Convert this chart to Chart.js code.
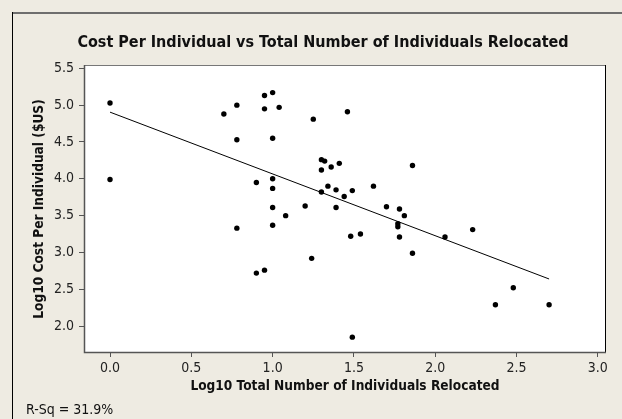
<!DOCTYPE html>
<html>
<head>
<meta charset="utf-8">
<script src="https://cdn.jsdelivr.net/npm/chart.js@4.4.1/dist/chart.umd.min.js"></script>
<style>
  body { margin: 0; background: #eeebe2; }
  #wrap { width: 622px; height: 419px; }
</style>
</head>
<body>
<div id="wrap"><canvas id="chart" width="622" height="419"></canvas></div>
<script>
// log10 total number relocated (x) vs log10 cost per individual (y)
const xValues = [0.00, 0.00, 0.70, 0.78, 0.78, 0.78, 0.90, 0.90, 0.95, 0.95, 0.95, 1.00, 1.00, 1.00, 1.00, 1.00, 1.00,
  1.04, 1.08, 1.20, 1.24, 1.25, 1.30, 1.32, 1.30, 1.30, 1.34, 1.36, 1.41, 1.39, 1.39, 1.44, 1.46, 1.49, 1.48, 1.49,
  1.54, 1.62, 1.70, 1.78, 1.81, 1.77, 1.77, 1.78, 1.86, 1.86, 2.06, 2.23, 2.37, 2.48, 2.70];
const yValues = [5.03, 3.99, 4.88, 5.00, 4.53, 3.33, 3.95, 2.72, 5.13, 4.95, 2.76, 5.17, 4.55, 4.00, 3.87, 3.61, 3.37,
  4.97, 3.50, 3.63, 2.92, 4.81, 4.26, 4.24, 4.12, 3.82, 3.90, 4.16, 4.21, 3.85, 3.61, 3.76, 4.91, 3.84, 3.22, 1.85,
  3.25, 3.90, 3.62, 3.59, 3.50, 3.39, 3.35, 3.21, 4.18, 2.99, 3.21, 3.31, 2.29, 2.52, 2.29];

// fitted regression line end points
const fitX = [0.0, 2.70];
const fitY = [4.905, 2.64];

const xTicks = [0.0, 0.5, 1.0, 1.5, 2.0, 2.5, 3.0];
const yTicks = [2.0, 2.5, 3.0, 3.5, 4.0, 4.5, 5.0, 5.5];

const chartTitle = 'Cost Per Individual vs Total Number of Individuals Relocated';
const xTitle = 'Log10 Total Number of Individuals Relocated';
const yTitle = 'Log10 Cost Per Individual ($US)';
const footNote = 'R-Sq = 31.9%';

const FONT = '"DejaVu Sans Condensed", "DejaVu Sans", sans-serif';
const BG = '#eeebe2';

const points = xValues.map((x, i) => ({ x: x, y: yValues[i] }));
const fitLine = fitX.map((x, i) => ({ x: x, y: fitY[i] }));

const minitabLook = {
  id: 'minitabLook',
  beforeDraw(chart) {
    const ctx = chart.ctx;
    const a = chart.chartArea;
    ctx.save();
    ctx.fillStyle = BG;
    ctx.fillRect(0, 0, chart.width, chart.height);
    // outer frame (top and left)
    ctx.strokeStyle = '#6e6e6e';
    ctx.lineWidth = 2;
    ctx.beginPath();
    ctx.moveTo(12, 13);
    ctx.lineTo(chart.width, 13);
    ctx.stroke();
    ctx.strokeStyle = '#000';
    ctx.lineWidth = 1;
    ctx.beginPath();
    ctx.moveTo(12.5, 12);
    ctx.lineTo(12.5, chart.height);
    ctx.stroke();
    ctx.fillStyle = '#fff';
    ctx.fillRect(a.left, a.top, a.right - a.left, a.bottom - a.top);
    ctx.restore();
  },
  afterDraw(chart) {
    const ctx = chart.ctx;
    const a = chart.chartArea;
    ctx.save();
    ctx.lineWidth = 1;
    ctx.strokeStyle = '#777';
    ctx.beginPath();
    ctx.moveTo(a.left, a.top + 0.5);
    ctx.lineTo(a.right, a.top + 0.5);
    ctx.stroke();
    ctx.strokeStyle = '#000';
    ctx.beginPath();
    ctx.moveTo(a.right - 0.5, a.top);
    ctx.lineTo(a.right - 0.5, a.bottom);
    ctx.stroke();
    ctx.strokeStyle = '#555';
    ctx.lineWidth = 1.5;
    ctx.beginPath();
    ctx.moveTo(a.left + 0.5, a.top);
    ctx.lineTo(a.left + 0.5, a.bottom - 0.5);
    ctx.lineTo(a.right, a.bottom - 0.5);
    ctx.stroke();

    ctx.fillStyle = '#111';
    ctx.textBaseline = 'middle';
    ctx.textAlign = 'center';
    ctx.font = 'bold 16px ' + FONT;
    ctx.fillText(chartTitle, 323, 43);
    ctx.font = 'bold 13.6px ' + FONT;
    ctx.fillText(xTitle, (a.left + a.right) / 2, 386);
    ctx.save();
    ctx.translate(39, (a.top + a.bottom) / 2);
    ctx.rotate(-Math.PI / 2);
    ctx.fillText(yTitle, 0, 0);
    ctx.restore();
    ctx.textAlign = 'left';
    ctx.font = '14px ' + FONT;
    ctx.fillText(footNote, 26, 410);
    ctx.restore();
  }
};

new Chart(document.getElementById('chart'), {
  type: 'scatter',
  data: {
    datasets: [
      {
        label: 'Observed',
        data: points,
        backgroundColor: '#000',
        borderColor: '#000',
        pointRadius: 2.7,
        pointBorderWidth: 0
      },
      {
        label: 'Fit',
        type: 'line',
        data: fitLine,
        borderColor: '#000',
        borderWidth: 1,
        pointRadius: 0,
        fill: false
      }
    ]
  },
  options: {
    responsive: false,
    animation: false,
    devicePixelRatio: 1,
    layout: { padding: { left: 0, top: 65, right: 16, bottom: 36 } },
    plugins: {
      legend: { display: false },
      title: { display: false },
      tooltip: { enabled: false }
    },
    scales: {
      x: {
        type: 'linear',
        min: -0.16,
        max: 3.05,
        afterBuildTicks: s => { s.ticks = xTicks.map(v => ({ value: v })); },
        afterFit: s => { s.height = 30; },
        border: { display: false },
        grid: { drawOnChartArea: false, drawTicks: true, tickLength: 4, color: '#555' },
        ticks: {
          color: '#222',
          padding: 3,
          font: { family: FONT, size: 14 },
          callback: v => v.toFixed(1)
        }
      },
      y: {
        type: 'linear',
        min: 1.635,
        max: 5.545,
        afterBuildTicks: s => { s.ticks = yTicks.map(v => ({ value: v })); },
        afterFit: s => { s.width = 84; },
        border: { display: false },
        grid: { drawOnChartArea: false, drawTicks: true, tickLength: 5, color: '#555' },
        ticks: {
          color: '#222',
          padding: 5,
          font: { family: FONT, size: 14 },
          callback: v => v.toFixed(1)
        }
      }
    }
  },
  plugins: [minitabLook]
});
</script>
</body>
</html>
